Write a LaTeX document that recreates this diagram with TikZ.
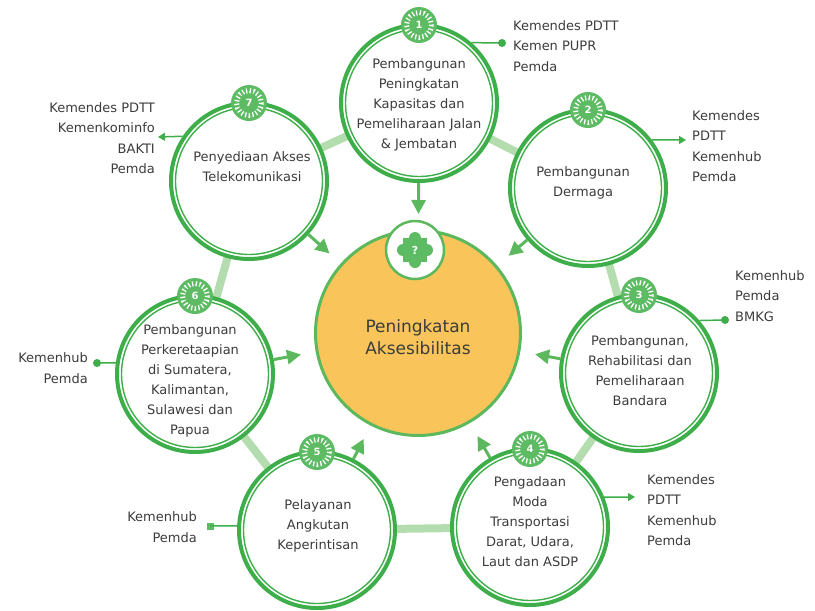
\documentclass[tikz,border=0pt]{standalone}
\usepackage{fontspec}
\setmainfont{DejaVu Sans}
\usetikzlibrary{arrows.meta,calc}
\definecolor{ringgreen}{HTML}{3DAE49}
\definecolor{arrowgreen}{HTML}{5CB85C}
\definecolor{lightgreen}{HTML}{B3DDAE}
\definecolor{badgegreen}{HTML}{5DBB63}
\definecolor{orangefill}{HTML}{F9C55B}
\definecolor{textgray}{HTML}{3C3C3C}
\begin{document}
\begin{tikzpicture}[x=1pt,y=-1pt,
  ringc/.style={circle, draw=ringgreen, line width=4pt, fill=white, outer sep=2pt, inner sep=0pt, minimum size=156pt},
  innerring/.style={draw=ringgreen, line width=1.4pt},
  link/.style={draw=lightgreen, line width=8pt},
  toc/.style={draw=arrowgreen, line width=3pt, -{Triangle[width=14pt,length=14pt]}, shorten >=15pt},
  resp/.style={font=\fontsize{13}{20.5}\selectfont, text=textgray, inner sep=0pt},
  ctext/.style={font=\fontsize{13}{20}\selectfont, text=textgray, align=center, inner sep=0pt},
  badge/.style={circle, fill=badgegreen, minimum size=36pt, inner sep=0pt, text=white, font=\bfseries\fontsize{10}{10}\selectfont},
  spokes/.style={draw=white, line width=5pt, dash pattern=on 1.3pt off 2.4pt},
  respline/.style={draw=ringgreen, line width=1.5pt},
  resparrow/.style={respline, -{Triangle[width=8pt,length=7pt]}},
  dotend/.style={circle, fill=ringgreen, minimum size=8pt, inner sep=0pt},
  sqend/.style={rectangle, fill=badgegreen, minimum size=7pt, inner sep=0pt}
]
\useasboundingbox (0,0) rectangle (815,611);

% circle centres
\coordinate (p1) at (419,103);
\coordinate (p2) at (588,188);
\coordinate (p3) at (639,373);
\coordinate (p4) at (530,527);
\coordinate (p5) at (317,530);
\coordinate (p6) at (195,374);
\coordinate (p7) at (249,181);

% ring links
\draw[link] (p1) -- (p2) -- (p3) -- (p4) -- (p5) -- (p6) -- (p7) -- cycle;

% circles
\foreach \i in {1,...,7} {
  \node[ringc] (c\i) at (p\i) {};
  \draw[innerring] (c\i.center) circle[radius=73.5];
}

% centre circle
\node[circle, fill=orangefill, draw=arrowgreen, line width=3pt, outer sep=1.5pt, minimum size=205pt, inner sep=0pt] (c0) at (418,333) {};
\node[font=\fontsize{17}{22}\selectfont, text=textgray, align=center, inner sep=0pt] (t0) at (418,337) {Peningkatan\\Aksesibilitas};

% centre badge
\node[circle, fill=white, draw=arrowgreen, line width=2.5pt, minimum size=58pt, inner sep=0pt] (b0) at (415,250) {};
\fill[badgegreen] ($(b0)+(-12,-12)$) rectangle ($(b0)+(12,12)$);
\fill[badgegreen] ($(b0)+(0,-12)$) circle[radius=6];
\fill[badgegreen] ($(b0)+(12,0)$) circle[radius=6];
\fill[badgegreen] ($(b0)+(0,12)$) circle[radius=6];
\fill[badgegreen] ($(b0)+(-12,0)$) circle[radius=6];
\node[text=white, font=\bfseries\fontsize{11}{11}\selectfont, inner sep=0pt] (q0) at (b0) {?};

% arrows towards centre
\foreach \i in {1,...,7} {
  \draw[toc] (c\i) -- (c0);
}

% badges
\foreach \i in {1,...,7} {
  \node[badge] (b\i) at ($(c\i.north)+(0,2)$) {\i};
  \draw[spokes] (b\i.center) circle[radius=12.5];
}

% circle texts
\node[ctext] (t1) at (419,105) {Pembangunan\\Peningkatan\\Kapasitas dan\\Pemeliharaan Jalan\\\& Jembatan};
\node[ctext] (t2) at (583,183) {Pembangunan\\Dermaga};
\node[ctext] (t3) at (640,371) {Pembangunan,\\Rehabilitasi dan\\Pemeliharaan\\Bandara};
\node[ctext] (t4) at (530,522) {Pengadaan\\Moda\\Transportasi\\Darat, Udara,\\Laut dan ASDP};
\node[ctext] (t5) at (318,526) {Pelayanan\\Angkutan\\Keperintisan};
\node[ctext] (t6) at (190,381) {Pembangunan\\Perkeretaapian\\di Sumatera,\\Kalimantan,\\Sulawesi dan\\Papua};
\node[ctext] (t7) at (252,167) {Penyediaan Akses\\Telekomunikasi};

% responsible parties
\node[resp, anchor=west, align=left] (r1) at (513,46) {Kemendes PDTT\\Kemen PUPR\\Pemda};
\node[resp, anchor=west, align=left] (r2) at (692,146) {Kemendes\\PDTT\\Kemenhub\\Pemda};
\node[resp, anchor=west, align=left] (r3) at (735,296) {Kemenhub\\Pemda\\BMKG};
\node[resp, anchor=west, align=left] (r4) at (647,510) {Kemendes\\PDTT\\Kemenhub\\Pemda};
\node[resp, anchor=east, align=right] (r5) at (197,527) {Kemenhub\\Pemda};
\node[resp, anchor=east, align=right] (r6) at (88,368) {Kemenhub\\Pemda};
\node[resp, anchor=east, align=right] (r7) at (155,138) {Kemendes PDTT\\Kemenkominfo\\BAKTI\\Pemda};

% connector ends
\node[dotend] (e1) at (502,43) {};
\coordinate (e2) at (686,140);
\node[dotend] (e3) at (725,320) {};
\coordinate (e4) at (635,497);
\node[sqend] (e5) at (210,526) {};
\node[dotend] (e6) at (97,363) {};
\coordinate (e7) at (158,137);

\draw[respline] (c1.49) -- (e1.center);
\draw[resparrow] (c2.37) -- (e2);
\draw[respline] (c3.41) -- (e3.center);
\draw[resparrow] (c4.22) -- (e4);
\draw[respline] (c5.177) -- (e5.center);
\draw[respline] (c6.172) -- (e6.center);
\draw[resparrow] (c7.146) -- (e7);
\end{tikzpicture}
\end{document}
